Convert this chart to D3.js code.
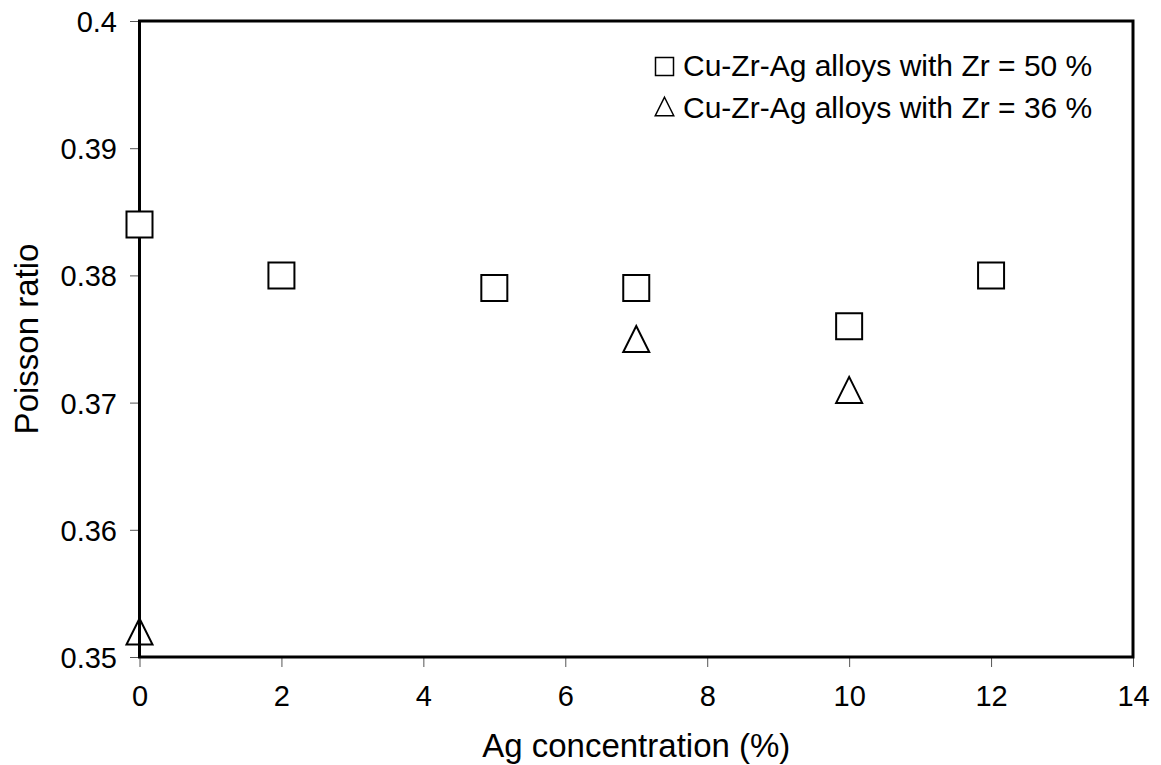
<!DOCTYPE html>
<html><head><meta charset="utf-8">
<script src="https://cdn.jsdelivr.net/npm/d3@7"></script>
<style>body{margin:0;background:#fff}svg{display:block}text{font-family:"Liberation Sans",Arial,sans-serif}</style>
</head><body>
<script>
const agZr50 = [0, 2, 5, 7, 10, 12];
const poissonZr50 = [0.384, 0.380, 0.379, 0.379, 0.376, 0.380];
const agZr36 = [0, 7, 10];
const poissonZr36 = [0.352, 0.375, 0.371];
const xTicks = [0, 2, 4, 6, 8, 10, 12, 14];
const yTicks = [0.35, 0.36, 0.37, 0.38, 0.39, 0.4];
const legendLabels = ["Cu-Zr-Ag alloys with Zr = 50 %", "Cu-Zr-Ag alloys with Zr = 36 %"];

const W = 1161, H = 765;
const m = {l: 139.5, r: 1133, t: 21, b: 657};
const svg = d3.select("body").append("svg").attr("width", W).attr("height", H);
const x = d3.scaleLinear().domain([0, 14]).range([m.l, m.r]);
const y = d3.scaleLinear().domain([0.35, 0.4]).range([m.b, m.t]);

// axes
const xa = svg.append("g").attr("transform", `translate(0,${m.b})`)
  .call(d3.axisBottom(x).tickValues(xTicks).tickSize(10).tickFormat(d3.format("d")));
const ya = svg.append("g").attr("transform", `translate(${m.l},0)`)
  .call(d3.axisLeft(y).tickValues(yTicks).tickSize(9.5).tickFormat(d => d === 0.4 ? "0.4" : d3.format(".2f")(d)));
[xa, ya].forEach(a => {
  a.select(".domain").remove();
  a.attr("font-family", null).attr("font-size", null);
  a.selectAll(".tick line").attr("stroke", "#555").attr("stroke-width", 1);
  a.selectAll(".tick text").attr("font-size", 29).attr("fill", "#000");
});
xa.selectAll(".tick text").attr("y", 48.5).attr("dy", null);
ya.selectAll(".tick text").attr("x", -22.5).attr("dy", "0.36em");

// frame
svg.append("rect").attr("x", m.l).attr("y", m.t).attr("width", m.r - m.l).attr("height", m.b - m.t)
  .attr("fill", "none").attr("stroke", "#000").attr("stroke-width", 3);

// axis titles
svg.append("text").attr("x", (m.l + m.r) / 2).attr("y", 757).attr("text-anchor", "middle")
  .attr("font-size", 33).text("Ag concentration (%)");
svg.append("text").attr("transform", `translate(38,${(m.t + m.b) / 2}) rotate(-90)`).attr("text-anchor", "middle")
  .attr("font-size", 33).text("Poisson ratio");

// points
const sq = d3.symbol().type(d3.symbolSquare).size(26 * 26);
const triSize = 26;
const triPath = (cx, cy, s) => {
  const h = s;
  return `M${cx},${cy - h / 2}L${cx + s / 2},${cy + h / 2}L${cx - s / 2},${cy + h / 2}Z`;
};
svg.append("g").selectAll("path").data(agZr50.map((a, i) => [a, poissonZr50[i]])).join("path")
  .attr("d", sq).attr("transform", d => `translate(${x(d[0])},${y(d[1])})`)
  .attr("fill", "#fff").attr("stroke", "#000").attr("stroke-width", 2);
svg.append("g").selectAll("path").data(agZr36.map((a, i) => [a, poissonZr36[i]])).join("path")
  .attr("d", d => triPath(x(d[0]), y(d[1]), triSize))
  .attr("fill", "none").attr("stroke", "#000").attr("stroke-width", 2);

// legend
const lg = svg.append("g");
lg.append("rect").attr("x", 655.5).attr("y", 57.5).attr("width", 18).attr("height", 18)
  .attr("fill", "#fff").attr("stroke", "#000").attr("stroke-width", 1.5);
lg.append("path").attr("d", triPath(664.5, 106.5, 18.5)).attr("fill", "none").attr("stroke", "#000").attr("stroke-width", 1.5);
lg.selectAll("text").data(legendLabels).join("text")
  .attr("x", 683).attr("y", (d, i) => 76 + i * 41.5).attr("font-size", 30).text(d => d);
</script>
</body></html>
